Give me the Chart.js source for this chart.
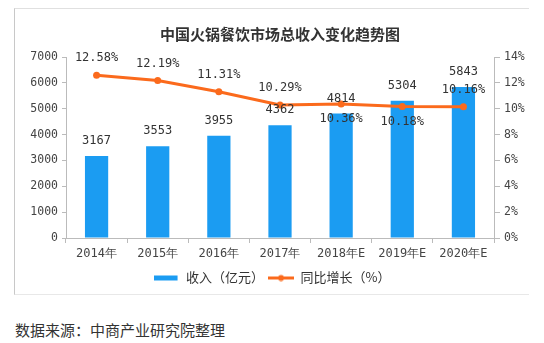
<!DOCTYPE html>
<html>
<head>
<meta charset="utf-8">
<script src="https://cdn.jsdelivr.net/npm/chart.js@4/dist/chart.umd.min.js"></script>
<style>
	body { margin: 0; background: #fff; width: 544px; height: 343px; position: relative; overflow: hidden; }
	#box { position: absolute; left: 14px; top: 8px; width: 514px; height: 285px; border-left: 1px solid #c8c8c8; border-top: 1px solid #e0e0e0; border-bottom: 1px solid #e8e8e8; }
	#source { position: absolute; left: 15px; top: 321px; font-family: "Noto Sans CJK SC", sans-serif; font-size: 15px; line-height: 18px; color: #333; }
</style>
</head>
<body>
<div id="box"><canvas id="chart" width="514" height="285"></canvas></div>
<div id="source">数据来源：中商产业研究院整理</div>
<script>
var years = ["2014年", "2015年", "2016年", "2017年", "2018年E", "2019年E", "2020年E"];
var revenue = [3167, 3553, 3955, 4362, 4814, 5304, 5843];
var growth = [12.58, 12.19, 11.31, 10.29, 10.36, 10.18, 10.16];

var blue = "#1b9cf2";
var orange = "#fb6a1c";
var mono = "'DejaVu Sans Mono', monospace";

// little legend symbols: flat bar and line with dot
function legendIcon(kind) {
	var c = document.createElement("canvas");
	c.width = 26;
	c.height = 8;
	var g = c.getContext("2d");
	if (kind == "bar") {
		g.fillStyle = blue;
		g.fillRect(0, 2, 24, 5);
	} else {
		g.fillStyle = orange;
		g.fillRect(0, 3, 26, 3);
		g.beginPath();
		g.arc(13, 4.5, 3, 0, Math.PI * 2);
		g.fill();
	}
	return c;
}
var icons = [legendIcon("bar"), legendIcon("line")];

// draws the value labels (no datalabels plugin available)
var valueLabels = {
	id: "valueLabels",
	afterDatasetsDraw: function (chart) {
		var ctx = chart.ctx;
		var below = [false, false, false, false, true, true, false];
		ctx.save();
		ctx.font = "12px " + mono;
		ctx.fillStyle = "#333";
		ctx.textAlign = "center";
		ctx.textBaseline = "middle";
		chart.getDatasetMeta(0).data.forEach(function (bar, i) {
			ctx.fillText(revenue[i], bar.x, bar.y - 15);
		});
		chart.getDatasetMeta(1).data.forEach(function (pt, i) {
			var dy = below[i] ? 15 : -17;
			ctx.fillText(growth[i].toFixed(2) + "%", pt.x, pt.y + dy);
		});
		ctx.restore();
	}
};

var ctx = document.getElementById("chart").getContext("2d");
var myChart = new Chart(ctx, {
	type: "bar",
	data: {
		labels: years,
		datasets: [
			{
				label: "收入（亿元）",
				data: revenue,
				backgroundColor: blue,
				barPercentage: 0.38,
				categoryPercentage: 1,
				yAxisID: "y",
				order: 2
			},
			{
				type: "line",
				label: "同比增长（%）",
				data: growth,
				borderColor: orange,
				backgroundColor: orange,
				borderWidth: 3,
				pointRadius: 3.5,
				pointBackgroundColor: orange,
				pointBorderWidth: 0,
				yAxisID: "y1",
				order: 1
			}
		]
	},
	options: {
		responsive: false,
		animation: false,
		layout: { padding: 0 },
		scales: {
			x: {
				grid: { display: true, drawOnChartArea: false, tickLength: 5, color: "#bbb" },
				border: { color: "#bbb" },
				ticks: { color: "#444", font: { size: 12, family: mono }, padding: 4, maxRotation: 0 },
				afterFit: function (axis) { axis.height = 29; }
			},
			y: {
				position: "left",
				min: 0,
				max: 7000,
				ticks: {
					stepSize: 1000,
					color: "#444",
					font: { size: 11.5, family: mono },
					padding: 4,
					callback: function (v) { return String(v); }
				},
				grid: { drawOnChartArea: false, tickLength: 4, color: "#bbb" },
				border: { color: "#bbb" },
				afterFit: function (axis) { axis.width = 51; }
			},
			y1: {
				position: "right",
				min: 0,
				max: 14,
				ticks: {
					stepSize: 2,
					color: "#444",
					font: { size: 11.5, family: mono },
					padding: 4,
					callback: function (v) { return v + "%"; }
				},
				grid: { drawOnChartArea: false, tickLength: 6, color: "#bbb" },
				border: { color: "#bbb" },
				afterFit: function (axis) { axis.width = 35; }
			}
		},
		plugins: {
			title: {
				display: true,
				fullSize: false,
				text: "中国火锅餐饮市场总收入变化趋势图",
				color: "#333",
				font: { size: 15, weight: "bold", family: "'Noto Sans CJK SC', sans-serif" },
				padding: { top: 16, bottom: 14 }
			},
			legend: {
				position: "bottom",
				labels: {
					color: "#333",
					usePointStyle: true,
					pointStyleWidth: 26,
					boxHeight: 8,
					padding: 4,
					font: { size: 13, family: "'Noto Sans CJK SC', sans-serif" },
					sort: function (a, b) { return a.datasetIndex - b.datasetIndex; },
					generateLabels: function (chart) {
						var items = Chart.defaults.plugins.legend.labels.generateLabels(chart);
						items.forEach(function (item) {
							item.pointStyle = icons[item.datasetIndex];
						});
						return items;
					}
				}
			},
			tooltip: { enabled: false }
		}
	},
	plugins: [valueLabels]
});
</script>
</body>
</html>
